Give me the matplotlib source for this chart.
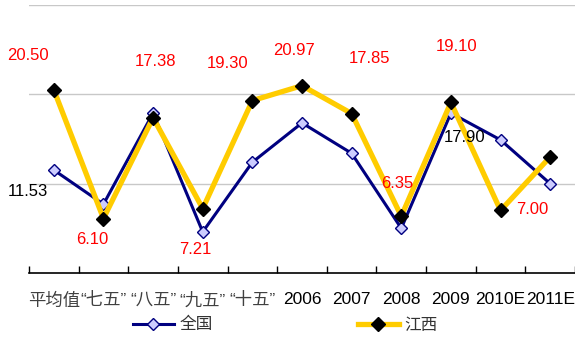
import matplotlib
matplotlib.use("Agg")
import matplotlib.pyplot as plt

plt.rcParams['font.family'] = ['Liberation Sans', 'Noto Sans CJK SC', 'DejaVu Sans']

categories = ['平均值', '“七五”', '“八五”', '“九五”', '“十五”', '2006', '2007', '2008', '2009', '2010E', '2011E']
national = [11.53, 7.7, 17.9, 4.6, 12.4, 16.8, 13.4, 5.0, 17.9, 14.9, 10.0]
jiangxi = [20.50, 6.10, 17.38, 7.21, 19.30, 20.97, 17.85, 6.35, 19.10, 7.00, 13.0]

# label texts: (series, category index, text, colour, offset px dx, dy)
labels = [
    ('jx', 0, '20.50', 'red', -26, 34),
    ('jx', 1, '6.10', 'red', -11, -21),
    ('jx', 2, '17.38', 'red', 2, 56),
    ('jx', 3, '7.21', 'red', -7, -41),
    ('jx', 4, '19.30', 'red', -25, 37),
    ('jx', 5, '20.97', 'red', -8, 35),
    ('jx', 6, '17.85', 'red', 18, 55),
    ('jx', 7, '6.35', 'red', -4, 33),
    ('jx', 8, '19.10', 'red', 6, 56),
    ('jx', 9, '7.00', 'red', 32, 1),
    ('cn', 0, '11.53', 'black', -26, -22),
    ('cn', 8, '17.90', 'black', 14, -24),
]

fig = plt.figure(figsize=(5.75, 3.38), dpi=100)
ax = fig.add_axes([29/575, 65/338, 546/575, 268/338])

x = list(range(len(categories)))
ax.plot(x, national, color='#000080', lw=2.2, marker='D', ms=6.5,
        mfc='#CCCCFF', mec='#000080', mew=1.0, label='全国', zorder=3)
ax.plot(x, jiangxi, color='#FFCC00', lw=3.8, marker='D', ms=7,
        mfc='black', mec='black', label='江西', zorder=4)

series = {'jx': jiangxi, 'cn': national}
for s, i, t, c, dx, dy in labels:
    ax.annotate(t, (i, series[s][i]), xytext=(dx, dy), textcoords='offset pixels',
                ha='center', va='center', color=c, fontsize=12,
                family=['Liberation Sans'], zorder=5)

ax.set_xlim(-0.5, len(categories) - 0.5)
ax.set_ylim(0, 30)
ax.set_yticks([10, 20, 30])
ax.yaxis.grid(True, color='#C8C8C8', lw=1)
ax.tick_params(axis='y', left=False, labelleft=False)
ax.set_axisbelow(True)
for sp in ['left', 'right', 'top']:
    ax.spines[sp].set_visible(False)
ax.spines['bottom'].set_color('black')
ax.spines['bottom'].set_linewidth(1.2)

ax.set_xticks([i + 0.5 for i in range(-1, len(categories))], minor=False)
ax.set_xticklabels([])
ax.tick_params(axis='x', which='major', direction='in', length=5, width=1, color='black')
ax.set_xticks(x, minor=True)
ax.set_xticklabels(categories, minor=True, fontsize=12.5)
ax.tick_params(axis='x', which='minor', length=0, pad=14, labelcolor='black')
for lab in ax.get_xticklabels(minor=True):
    if any(ord(ch) > 0x2000 for ch in lab.get_text()):
        lab.set_family(['Liberation Sans', 'Noto Sans CJK SC'])
        lab.set_fontsize(12.5)
        lab.set_color('#404040')
    else:
        lab.set_family(['Liberation Sans'])

leg = fig.legend(loc='center', bbox_to_anchor=(285/575, 13/338), ncol=2, frameon=False,
                 handlelength=2.5, handletextpad=0.3, columnspacing=8.7,
                 prop={'family': ['Noto Sans CJK SC'], 'size': 12})
for t in leg.get_texts():
    t.set_color('#333333')

fig.savefig('out.png', dpi=100)
